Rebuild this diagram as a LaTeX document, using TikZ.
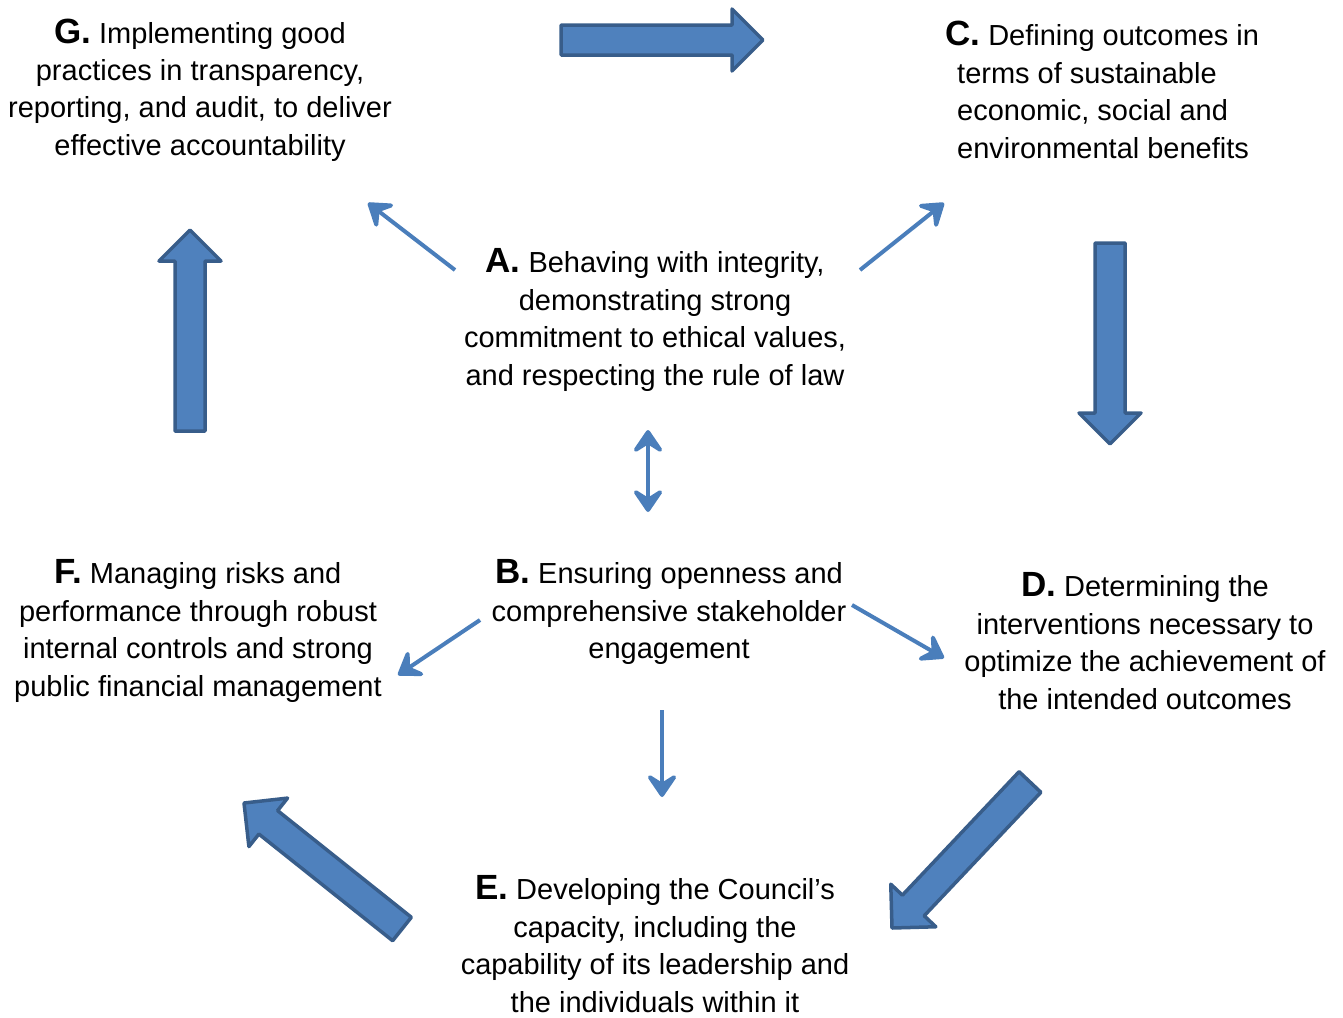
\documentclass[tikz,border=0pt]{standalone}
\usepackage{fontspec}
\setmainfont{Liberation Sans}
\usetikzlibrary{arrows.meta,calc}
\definecolor{blockfill}{HTML}{4F81BD}
\definecolor{blockline}{HTML}{385D8A}
\definecolor{thinblue}{HTML}{4A7EBB}
\tikzset{
  principle/.style={font=\fontsize{29}{37.4}\selectfont, align=center, inner sep=0pt},
  blockarrow/.style={fill=blockfill, draw=blockline, line width=3.5pt, line join=round},
  link/.style={draw=thinblue, line width=4pt, -{Stealth[length=28pt 0 0,width=38pt 0 0,inset=12pt 0,round]}},
  twolink/.style={link, {Stealth[length=28pt 0 0,width=38pt 0 0,inset=12pt 0,round]}-{Stealth[length=28pt 0 0,width=38pt 0 0,inset=12pt 0,round]}},
}
\newcommand\letter[1]{{\fontsize{35}{37}\selectfont\bfseries #1.}}
% block arrow from tail #1 to tip #2
\newcommand\bigarrow[2]{%
  \coordinate (neck) at ($(#2)!31pt!(#1)$);
  \draw[blockarrow] ($(#1)!15pt!90:(#2)$) -- ($(neck)!15pt!90:(#2)$)
    -- ($(neck)!31pt!90:(#2)$) -- (#2) -- ($(neck)!31pt!-90:(#2)$)
    -- ($(neck)!15pt!-90:(#2)$) -- ($(#1)!15pt!-90:(#2)$) -- cycle;
}
\begin{document}
\begin{tikzpicture}[x=1pt, y=-1pt]
  \useasboundingbox (0,0) rectangle (1343,1017);
  % principles
  \node[principle] (g) at (200,90) {\letter{G} Implementing good\\practices in transparency,\\reporting, and audit, to deliver\\effective accountability};
  \node[principle, align=left, anchor=west] (c) at (957,90) {\hspace*{-12pt}\letter{C} Defining outcomes in\\terms of sustainable\\economic, social and\\environmental benefits};
  \node[principle] (a) at (655,320) {\letter{A} Behaving with integrity,\\demonstrating strong\\commitment to ethical values,\\and respecting the rule of law};
  \node[principle] (b) at (669,612) {\letter{B} Ensuring openness and\\comprehensive stakeholder\\engagement};
  \node[principle] (d) at (1145,641) {\letter{D} Determining the\\interventions necessary to\\optimize the achievement of\\the intended outcomes};
  \node[principle] (f) at (198,631) {\letter{F} Managing risks and\\performance through robust\\internal controls and strong\\public financial management};
  \node[principle] (e) at (655,944) {\letter{E} Developing the Council’s\\capacity, including the\\capability of its leadership and\\the individuals within it};
  % cycle of block arrows
  \coordinate (gc-t) at (561,40);   \coordinate (gc-h) at (763,40);
  \coordinate (cd-t) at (1110,243); \coordinate (cd-h) at (1110,444);
  \coordinate (de-t) at (1030,782); \coordinate (de-h) at (892,928);
  \coordinate (ef-t) at (402,929);  \coordinate (ef-h) at (244,803);
  \coordinate (fg-t) at (190,431);  \coordinate (fg-h) at (190,230);
  \bigarrow{gc-t}{gc-h}
  \bigarrow{cd-t}{cd-h}
  \bigarrow{de-t}{de-h}
  \bigarrow{ef-t}{ef-h}
  \bigarrow{fg-t}{fg-h}
  % links from A and B
  \coordinate (ag-t) at (455,270); \coordinate (ag-h) at (368,203);
  \coordinate (ac-t) at (860,270); \coordinate (ac-h) at (944,203);
  \coordinate (ab-t) at (648,430); \coordinate (ab-h) at (648,512);
  \coordinate (bf-t) at (480,620); \coordinate (bf-h) at (398,675);
  \coordinate (bd-t) at (852,605); \coordinate (bd-h) at (944,658);
  \coordinate (be-t) at (662,710); \coordinate (be-h) at (662,797);
  \draw[link] (ag-t) -- (ag-h);
  \draw[link] (ac-t) -- (ac-h);
  \draw[twolink] (ab-t) -- (ab-h);
  \draw[link] (bf-t) -- (bf-h);
  \draw[link] (bd-t) -- (bd-h);
  \draw[link] (be-t) -- (be-h);
\end{tikzpicture}
\end{document}
